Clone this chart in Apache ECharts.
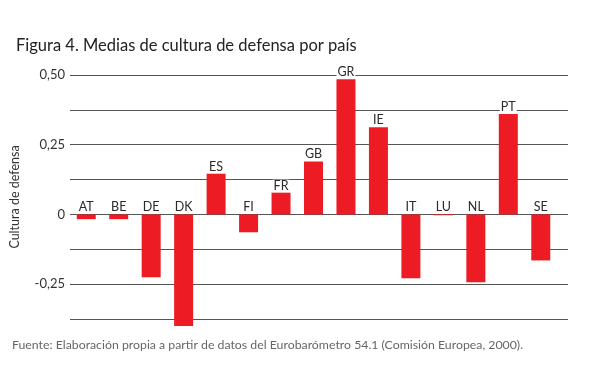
<!DOCTYPE html>
<html>
<head>
<meta charset="utf-8">
<script src="https://cdn.jsdelivr.net/npm/echarts@6/dist/echarts.min.js"></script>
<style>
  html, body { margin: 0; padding: 0; background: #fff; }
  #chart { width: 597px; height: 365px; }
</style>
</head>
<body>
<div id="chart"></div>
<script>
// datos
const countries = ['AT', 'BE', 'DE', 'DK', 'ES', 'FI', 'FR', 'GB', 'GR', 'IE', 'IT', 'LU', 'NL', 'PT', 'SE'];
const values = [-0.017, -0.017, -0.225, -0.40, 0.146, -0.064, 0.078, 0.19, 0.485, 0.313, -0.229, -0.003, -0.243, 0.36, -0.165];
const yTicks = [0.5, 0.25, 0, -0.25]; // solo estas llevan etiqueta
const yMin = -0.375, yMax = 0.5, yStep = 0.125;

const fmt = v => v === 0 ? '0' : v.toFixed(2).replace('.', ',');

const chart = echarts.init(document.getElementById('chart'));
const font = 'Lato, "Noto Sans", sans-serif';

const option = {
  animation: false,
  title: [
    {
      text: 'Figura 4. Medias de cultura de defensa por país',
      left: 11, top: 32,
      textStyle: { fontFamily: font, fontSize: 16.5, fontWeight: 'normal', color: '#222' }
    },
    {
      text: 'Fuente: Elaboración propia a partir de datos del Eurobarómetro 54.1 (Comisión Europea, 2000).',
      left: 7, top: 334,
      textStyle: { fontFamily: font, fontSize: 12.3, fontWeight: 'normal', color: '#666' }
    }
  ],
  grid: [
    { left: 65, right: 29, top: 75, bottom: 46 },   // lineas
    { left: 70, right: 40, top: 75, bottom: 46 }    // barras
  ],
  xAxis: [
    { type: 'value', gridIndex: 0, show: false },
    { type: 'category', gridIndex: 1, data: countries, show: false }
  ],
  yAxis: [
    {
      type: 'value', gridIndex: 0,
      min: yMin, max: yMax, interval: yStep,
      name: 'Cultura de defensa',
      nameLocation: 'middle', nameGap: 49, nameRotate: 90,
      nameTextStyle: { fontFamily: font, fontSize: 12.5, color: '#333' },
      axisLine: { show: false }, axisTick: { show: false },
      axisLabel: {
        margin: 5, fontFamily: font, fontSize: 13, color: '#333',
        formatter: v => yTicks.some(t => Math.abs(t - v) < 1e-6) ? fmt(v) : ''
      },
      splitLine: { lineStyle: { color: '#555', width: 1 } }
    },
    { type: 'value', gridIndex: 1, min: yMin, max: yMax, interval: yStep, show: false, splitLine: { show: false } }
  ],
  series: [
    {
      type: 'bar',
      xAxisIndex: 1, yAxisIndex: 1,
      data: values,
      barWidth: 19,
      clip: false,
      itemStyle: { color: '#ed1c24' },
      label: {
        show: true,
        position: 'top',
        distance: 1,
        formatter: p => countries[p.dataIndex],
        fontFamily: font, fontSize: 12.5, color: '#2a2a2a',
        backgroundColor: '#fff', padding: [0, 1, 0, 1], lineHeight: 12
      }
    }
  ]
};

chart.setOption(option);
window.addEventListener('resize', () => chart.resize());
</script>
</body>
</html>
